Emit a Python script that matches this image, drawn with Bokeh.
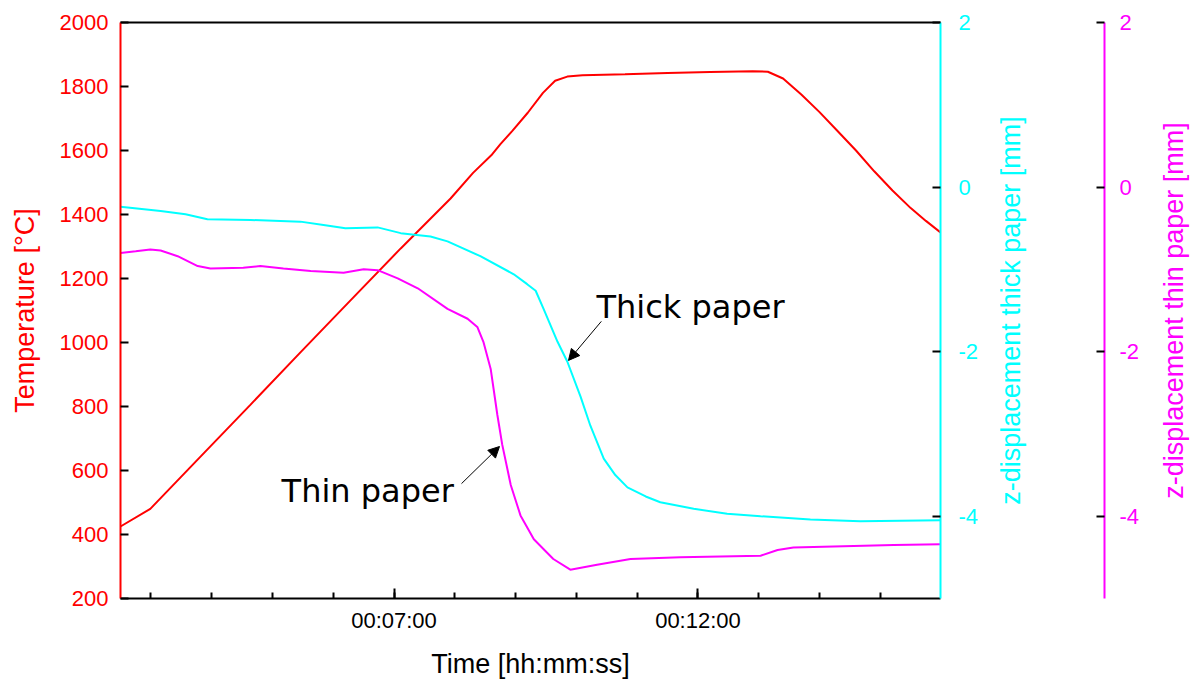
from bokeh.plotting import figure
from bokeh.layouts import row
from bokeh.models import (LinearAxis, Range1d, FixedTicker, Arrow, NormalHead,
                          Label, CustomJSTickFormatter)
from bokeh.embed import file_html
from bokeh.resources import INLINE

# ---------------- data (time in minutes) ----------------
temp_time = [2.50, 2.99, 3.82, 4.64, 5.46, 6.28, 7.11, 7.93, 8.30, 8.60, 8.75,
             8.95, 9.20, 9.45, 9.65, 9.85, 10.10, 10.80, 11.50, 12.20, 12.90,
             13.15, 13.40, 13.70, 14.00, 14.30, 14.60, 14.90, 15.20, 15.50,
             15.75, 15.99]
temp_vals = [425, 480, 644, 806, 969, 1131, 1294, 1450, 1530, 1585, 1620,
             1662, 1718, 1780, 1818, 1831, 1835, 1838, 1842, 1845, 1848,
             1846, 1825, 1775, 1720, 1660, 1600, 1535, 1475, 1420, 1380, 1344]

thick_time = [2.50, 3.16, 3.57, 3.93, 4.64, 5.46, 5.84, 6.20, 6.73, 7.11, 7.60,
              7.88, 8.42, 8.97, 9.19, 9.33, 9.46, 9.69, 9.85, 10.07, 10.23,
              10.45, 10.64, 10.84, 11.14, 11.38, 11.93, 12.48, 13.03, 13.85,
              14.67, 15.99]
thick_vals = [-0.24, -0.29, -0.33, -0.39, -0.40, -0.42, -0.46, -0.50, -0.49,
              -0.56, -0.60, -0.66, -0.84, -1.06, -1.18, -1.26, -1.48, -1.88,
              -2.12, -2.55, -2.90, -3.30, -3.50, -3.65, -3.76, -3.83, -3.91,
              -3.97, -4.00, -4.04, -4.06, -4.05]

thin_time = [2.50, 2.75, 2.99, 3.16, 3.44, 3.77, 3.98, 4.52, 4.80, 5.18, 5.63,
             6.17, 6.50, 6.73, 7.06, 7.39, 7.88, 8.21, 8.37, 8.47, 8.59, 8.70,
             8.78, 8.92, 9.08, 9.30, 9.62, 9.90, 10.34, 10.89, 11.71, 13.03,
             13.31, 13.57, 15.22, 15.99]
thin_vals = [-0.80, -0.78, -0.76, -0.77, -0.84, -0.96, -0.99, -0.98, -0.96,
             -0.99, -1.02, -1.04, -1.00, -1.01, -1.11, -1.23, -1.48, -1.60,
             -1.70, -1.88, -2.21, -2.77, -3.13, -3.62, -3.99, -4.28, -4.52,
             -4.65, -4.59, -4.52, -4.50, -4.48, -4.41, -4.38, -4.35, -4.34]

temp_ticks = [200, 400, 600, 800, 1000, 1200, 1400, 1600, 1800, 2000]
disp_ticks = [-4, -2, 0, 2]
time_major = [7, 12]
time_minor = [3, 4, 5, 6, 7, 8, 9, 10, 11, 12, 13, 14, 15]

RED = "#FF0000"
CYAN = "#00FFFF"
MAG = "#FF00FF"
FONT = "Liberation Sans"
FH = 576          # frame height shared by all panels
TOP = 22
BOTTOM = 90

hyphen_fmt = CustomJSTickFormatter(code="return tick.toString();")


def style(ax, color, line_color):
    ax.axis_line_color = line_color
    ax.axis_line_width = 2
    ax.major_tick_line_color = "black"
    ax.major_tick_line_width = 2
    ax.minor_tick_line_color = None
    ax.major_tick_in = 8
    ax.major_tick_out = 0
    ax.major_label_text_color = color
    ax.major_label_text_font = FONT
    ax.major_label_text_font_size = "22px"
    ax.axis_label_text_color = color
    ax.axis_label_text_font = FONT
    ax.axis_label_text_font_size = "27px"
    ax.axis_label_text_font_style = "normal"


def blank(fig):
    fig.outline_line_color = None
    fig.background_fill_color = "white"
    fig.border_fill_color = "white"


def title_axis(text, color, standoff):
    ax = LinearAxis(ticker=FixedTicker(ticks=[]), axis_label=text)
    style(ax, color, None)
    ax.major_tick_line_color = None
    ax.axis_label_standoff = standoff
    return ax


# ================= main panel =================
p = figure(frame_width=820, frame_height=FH,
           x_range=Range1d(2.50, 15.99), y_range=Range1d(200, 2000),
           x_axis_type=None, y_axis_type=None,
           output_backend="svg", toolbar_location=None,
           min_border_left=120, min_border_top=TOP, min_border_right=47,
           min_border_bottom=BOTTOM)
blank(p)
p.extra_y_ranges = {"thick": Range1d(-5, 2), "thin": Range1d(-5, 2)}

ya = LinearAxis(ticker=FixedTicker(ticks=temp_ticks),
                axis_label="Temperature [°C]")
style(ya, RED, RED)
ya.major_label_standoff = 12
ya.axis_label_standoff = 17
p.add_layout(ya, "left")

xa = LinearAxis(ticker=FixedTicker(ticks=time_major, minor_ticks=time_minor),
                axis_label="Time [hh:mm:ss]",
                formatter=CustomJSTickFormatter(code="""
                    const m = Math.round(tick);
                    return "00:" + String(m).padStart(2, "0") + ":00";
                """))
style(xa, "black", "black")
xa.major_tick_in = 10
xa.minor_tick_line_color = "black"
xa.minor_tick_line_width = 2
xa.minor_tick_in = 6
xa.minor_tick_out = 0
xa.major_label_standoff = 9
xa.axis_label_standoff = 13
p.add_layout(xa, "below")

ta = LinearAxis(ticker=FixedTicker(ticks=[]))
ta.axis_line_color = "black"
ta.axis_line_width = 2
ta.major_tick_out = 0
ta.major_tick_in = 0
ta.minor_tick_line_color = None
ta.major_tick_line_color = None
p.add_layout(ta, "above")

ca = LinearAxis(y_range_name="thick", ticker=FixedTicker(ticks=disp_ticks),
                formatter=hyphen_fmt)
style(ca, CYAN, CYAN)
ca.major_label_standoff = 18
p.add_layout(ca, "right")

p.line(temp_time, temp_vals, line_color=RED, line_width=2)
p.line(thick_time, thick_vals, line_color=CYAN, line_width=2, y_range_name="thick")
p.line(thin_time, thin_vals, line_color=MAG, line_width=2, y_range_name="thin")

for txt, x, y in (("Thick paper", 10.33, 1112), ("Thin paper", 5.15, 535)):
    p.add_layout(Label(x=x, y=y, text=txt, text_font="DejaVu Sans",
                       text_font_size="32px", text_color="black",
                       text_baseline="alphabetic", text_align="left"))

p.add_layout(Arrow(end=NormalHead(size=11, fill_color="black", line_color="black"),
                   x_start=10.41, y_start=1066, x_end=9.87, y_end=944,
                   line_color="black", line_width=1))
p.add_layout(Arrow(end=NormalHead(size=11, fill_color="black", line_color="black"),
                   x_start=8.11, y_start=559, x_end=8.735, y_end=675,
                   line_color="black", line_width=1))

# ====== middle panel: cyan title + magenta (thin paper) axis ======
q = figure(frame_width=10, frame_height=FH,
           x_range=Range1d(0, 1), y_range=Range1d(-5, 2),
           x_axis_type=None, y_axis_type=None,
           output_backend="svg", toolbar_location=None,
           min_border_left=107, min_border_top=TOP, min_border_right=47,
           min_border_bottom=BOTTOM)
blank(q)
q.add_layout(title_axis("z-displacement thick paper [mm]", CYAN, 69), "left")
ma = LinearAxis(ticker=FixedTicker(ticks=disp_ticks), formatter=hyphen_fmt)
style(ma, MAG, MAG)
ma.major_label_standoff = 15
q.add_layout(ma, "right")

# ====== right panel: magenta title ======
r = figure(frame_width=2, frame_height=FH,
           x_range=Range1d(0, 1), y_range=Range1d(-5, 2),
           x_axis_type=None, y_axis_type=None,
           output_backend="svg", toolbar_location=None,
           min_border_left=40, min_border_top=TOP, min_border_right=0,
           min_border_bottom=BOTTOM)
blank(r)
r.add_layout(title_axis("z-displacement thin paper [mm]", MAG, 3), "left")

layout = row(p, q, r)
open("out.html", "w").write(file_html(layout, INLINE))
